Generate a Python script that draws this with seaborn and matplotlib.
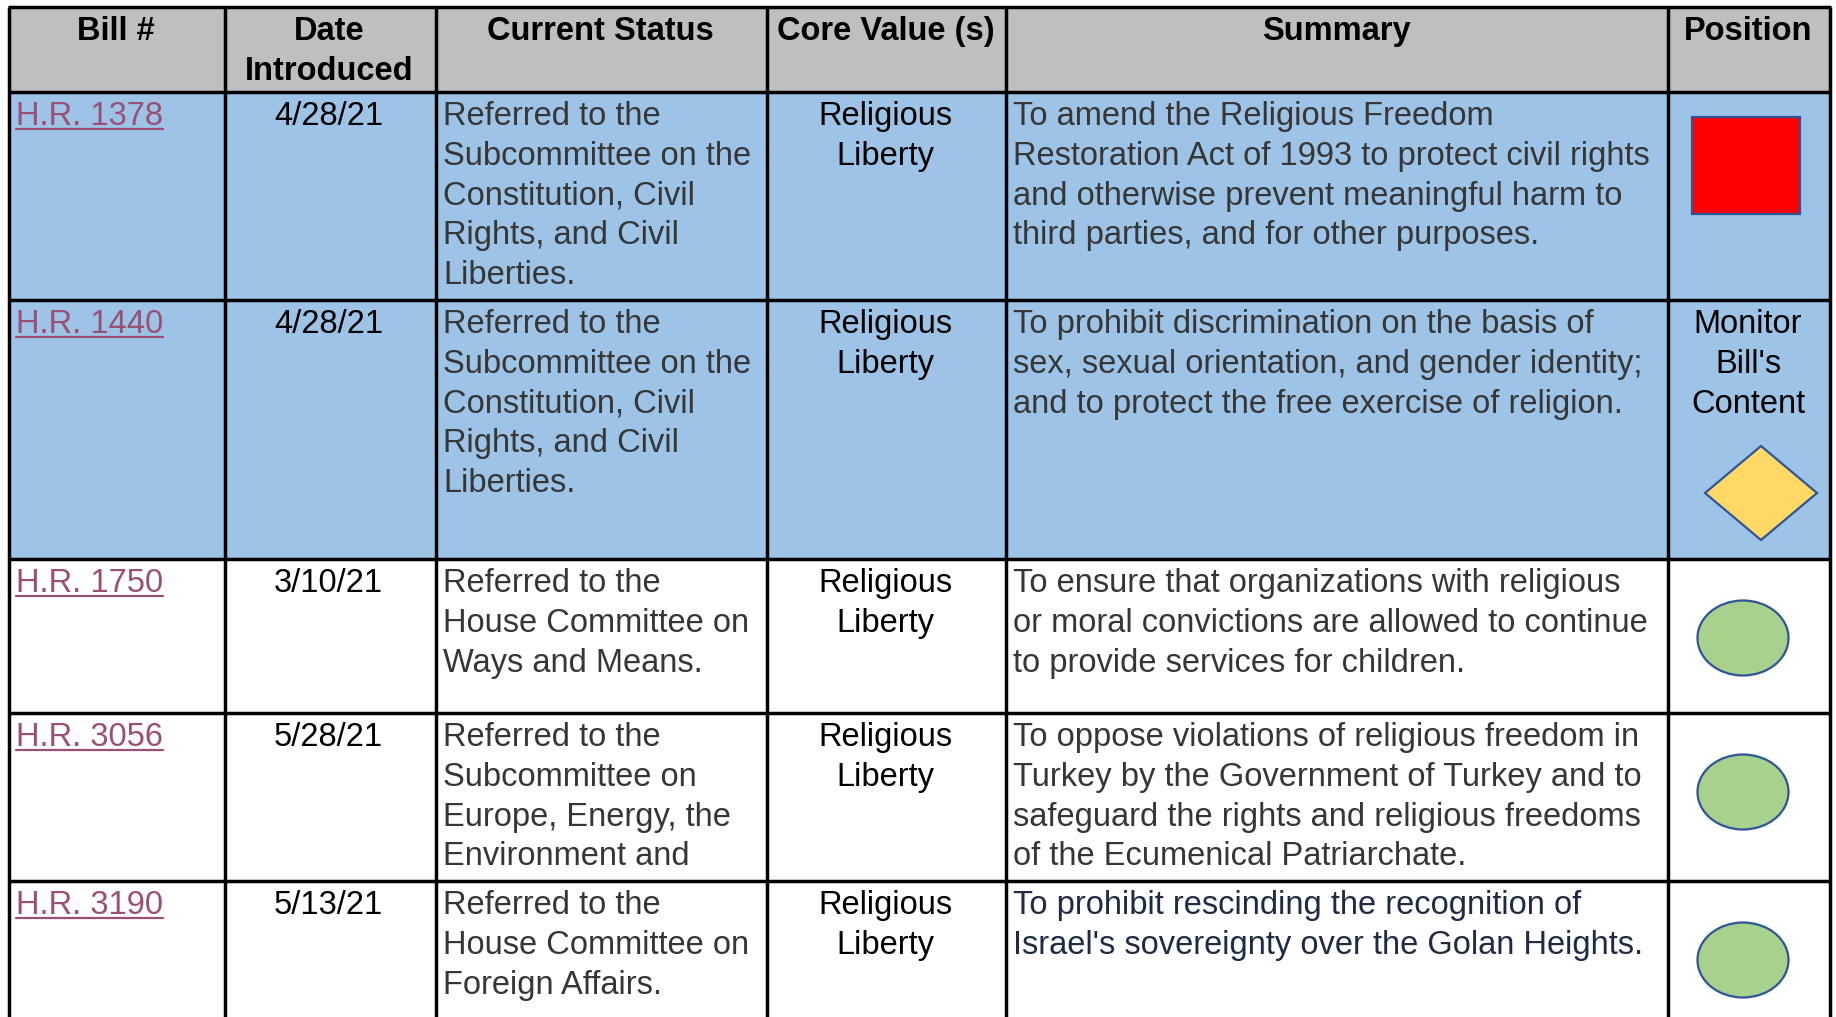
import matplotlib
matplotlib.use("Agg")
import matplotlib.pyplot as plt
import matplotlib.patches as mpatches
import seaborn as sns

# ---------------- data ----------------
headers = [["Bill #"], ["Date", "Introduced"], ["Current Status"], ["Core Value (s)"], ["Summary"], ["Position"]]
bills = ["H.R. 1378", "H.R. 1440", "H.R. 1750", "H.R. 3056", "H.R. 3190"]
dates = ["4/28/21", "4/28/21", "3/10/21", "5/28/21", "5/13/21"]
status = [
    ["Referred to the", "Subcommittee on the", "Constitution, Civil", "Rights, and Civil", "Liberties."],
    ["Referred to the", "Subcommittee on the", "Constitution, Civil", "Rights, and Civil", "Liberties."],
    ["Referred to the", "House Committee on", "Ways and Means."],
    ["Referred to the", "Subcommittee on", "Europe, Energy, the", "Environment and"],
    ["Referred to the", "House Committee on", "Foreign Affairs."],
]
core_values = [["Religious", "Liberty"]] * 5
summaries = [
    ["To amend the Religious Freedom", "Restoration Act of 1993 to protect civil rights",
     "and otherwise prevent meaningful harm to", "third parties, and for other purposes."],
    ["To prohibit discrimination on the basis of", "sex, sexual orientation, and gender identity;",
     "and to protect the free exercise of religion."],
    ["To ensure that organizations with religious", "or moral convictions are allowed to continue",
     "to provide services for children."],
    ["To oppose violations of religious freedom in", "Turkey by the Government of Turkey and to",
     "safeguard the rights and religious freedoms", "of the Ecumenical Patriarchate."],
    ["To prohibit rescinding the recognition of", "Israel's sovereignty over the Golan Heights."],
]
positions = ["oppose", "monitor", "support", "support", "support"]
position_labels = {"monitor": ["Monitor", "Bill's", "Content"]}
highlighted = [True, True, False, False, False]

# ---------------- layout / style ----------------
W, H = 1836, 1017
col_edges = [9, 225, 436, 767, 1006, 1668, 1830]
row_edges = [7, 92, 300, 559, 713, 881, 1040]
FS = 23.5
LINE = 39.8
BASE = 33
FAM = ["Liberation Sans", "DejaVu Sans"]
HEAD_BG = "#BFBFBF"
BLUE = "#9DC3E6"
GRAY_TXT = "#363636"
LINK = "#9A4F74"
NAVY = "#1F2A44"
EDGE = "#2F5597"

sns.set_theme(style="white")
plt.rcParams["font.family"] = FAM

fig = plt.figure(figsize=(W / 100, H / 100), dpi=100)
ax = fig.add_axes([0, 0, 1, 1])
ax.set_xlim(0, W)
ax.set_ylim(H, 0)
ax.axis("off")


def cell_rect(c0, c1, r0, r1, color):
    ax.add_patch(mpatches.Rectangle((col_edges[c0], row_edges[r0]),
                                    col_edges[c1] - col_edges[c0],
                                    row_edges[r1] - row_edges[r0],
                                    facecolor=color, edgecolor="none", zorder=0))


def lines_text(lines, col, row, align="left", color="black", weight="normal", dx=0):
    top = row_edges[row]
    if align == "left":
        x = col_edges[col] + 7
    else:
        x = (col_edges[col] + col_edges[col + 1]) / 2 + dx
    out = []
    for i, ln in enumerate(lines):
        t = ax.text(x, top + BASE + i * LINE, ln, ha=align, va="baseline",
                    fontsize=FS, color=color, fontweight=weight, family=FAM, zorder=3)
        out.append(t)
    return out


# backgrounds
cell_rect(0, 6, 0, 1, HEAD_BG)
for i, hl in enumerate(highlighted):
    if hl:
        cell_rect(0, 6, i + 1, i + 2, BLUE)

# header
for c, h in enumerate(headers):
    lines_text(h, c, 0, align="center", weight="bold", dx=-1)

# body
link_texts = []
for i in range(len(bills)):
    r = i + 1
    link_texts += lines_text([bills[i]], 0, r, color=LINK)
    lines_text([dates[i]], 1, r, align="center", dx=-2)
    lines_text(status[i], 2, r, color=GRAY_TXT)
    lines_text(core_values[i], 3, r, align="center", dx=-1)
    lines_text(summaries[i], 4, r, color=NAVY if i == 4 else GRAY_TXT)

# position markers
for i, p in enumerate(positions):
    r0, r1 = row_edges[i + 1], row_edges[i + 2]
    if p == "oppose":
        ax.add_patch(mpatches.Rectangle((1692, r0 + 25), 108, 97, facecolor="#FF0000",
                                        edgecolor=EDGE, lw=1.6, zorder=2))
    elif p == "monitor":
        lines_text(position_labels[p], 5, i + 1, align="center", dx=-1)
        dcx, dcy = 1761, r0 + 193
        ax.add_patch(mpatches.Polygon([(dcx, dcy - 47), (dcx + 56, dcy), (dcx, dcy + 47), (dcx - 56, dcy)],
                                      closed=True, facecolor="#FFD966", edgecolor=EDGE, lw=1.6, zorder=2))
    else:
        ax.add_patch(mpatches.Ellipse((1743, r0 + 79), 91, 75, facecolor="#A9D18E",
                                      edgecolor=EDGE, lw=1.6, zorder=2))

# underline links
fig.canvas.draw()
renderer = fig.canvas.get_renderer()
inv = ax.transData.inverted()
for t in link_texts:
    bb = t.get_window_extent(renderer)
    (x0, _), (x1, _) = inv.transform([(bb.x0, bb.y0), (bb.x1, bb.y1)])
    y = t.get_position()[1] + 4
    ax.plot([x0, x1], [y, y], color=LINK, lw=1.6, zorder=3)

# grid lines
for x in col_edges:
    ax.plot([x, x], [row_edges[0], H + 5], color="black", lw=2.5, zorder=4, solid_capstyle="butt")
for y in row_edges[:-1]:
    ax.plot([col_edges[0] - 1, col_edges[-1] + 1], [y, y], color="black", lw=2.5, zorder=4,
            solid_capstyle="butt")

fig.savefig("out.png", dpi=100, facecolor="white")
